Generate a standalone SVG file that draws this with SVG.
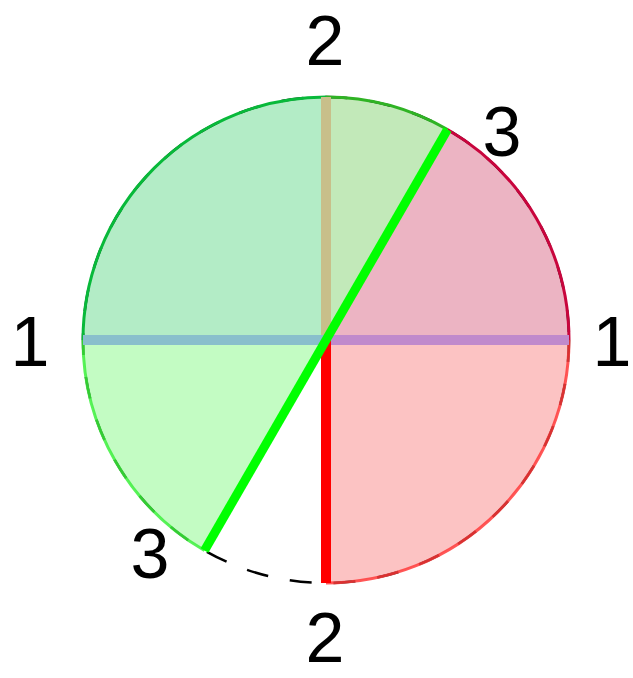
<svg xmlns="http://www.w3.org/2000/svg" width="633" height="678" viewBox="0 0 633 678">
<style>
.lbl{font-family:"Liberation Sans","DejaVu Sans",sans-serif;font-size:70px;fill:#000;text-anchor:middle}
.arc{fill:none;stroke-width:3}
</style>
<rect width="633" height="678" fill="#fff"/>
<g id="regions">
<path id="ul" d="M326,340 L326,97 A243,243 0 0 0 83,340 Z" fill="#b3ecc6"/>
<path id="top" d="M326,340 L447.5,129.56 A243,243 0 0 0 326,97 Z" fill="#c2e9b9"/>
<path id="ur" d="M326,340 L569,340 A243,243 0 0 0 447.5,129.56 Z" fill="#ecb4c3"/>
<path id="lr" d="M326,340 L326,583 A243,243 0 0 0 569,340 Z" fill="#fcc3c3"/>
<path id="ll" d="M326,340 L83,340 A243,243 0 0 0 204.5,550.44 Z" fill="#c3fcc3"/>
</g>
<g id="outline">
<circle cx="326" cy="340" r="243" fill="none" stroke="#000" stroke-width="2.5" stroke-dasharray="22 22"/>
<path class="arc" d="M326,97 A243,243 0 0 0 83,340" stroke="#08b93a"/>
<path class="arc" d="M447.5,129.56 A243,243 0 0 0 326,97" stroke="#2fb324"/>
<path class="arc" d="M569,340 A243,243 0 0 0 447.5,129.56" stroke="#c8053d"/>
<path class="arc" d="M326,583 A243,243 0 0 0 569,340" stroke="#ff3a3a" opacity="0.85"/>
<path class="arc" d="M83,340 A243,243 0 0 0 204.5,550.44" stroke="#3cf03c" opacity="0.85"/>
</g>
<g id="connectors">
<line x1="83" y1="340" x2="326" y2="340" stroke="#89bfcc" stroke-width="10"/>
<line x1="326" y1="340" x2="569" y2="340" stroke="#c08acc" stroke-width="10"/>
<line x1="326" y1="97" x2="326" y2="335" stroke="#c8bf8a" stroke-width="10"/>
<line x1="326" y1="340" x2="326" y2="583" stroke="#ff0000" stroke-width="10"/>
<line x1="204.5" y1="550.44" x2="447.5" y2="129.56" stroke="#00ff00" stroke-width="9"/>
</g>
<g id="labels">
<text class="lbl" x="325" y="65">2</text>
<text class="lbl" x="502" y="156">3</text>
<text class="lbl" x="30" y="366">1</text>
<text class="lbl" x="612" y="366">1</text>
<text class="lbl" x="150" y="578">3</text>
<text class="lbl" x="325" y="662">2</text>
</g>
</svg>
